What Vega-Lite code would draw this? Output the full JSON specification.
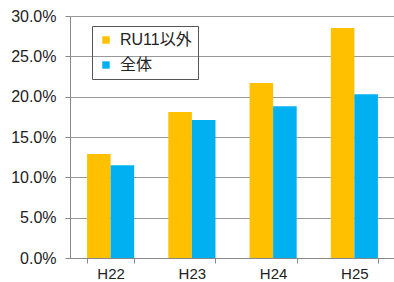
{
  "$schema": "https://vega.github.io/schema/vega-lite/v6.json",
  "autosize": "none",
  "width": 325,
  "height": 242,
  "padding": {"left": 70, "top": 16, "right": 0, "bottom": 24},
  "config": {
    "font": "Liberation Sans, Noto Sans CJK JP, sans-serif",
    "view": {"stroke": null}
  },
  "data": {
    "values": [
      {"year": "H22", "series": "RU11以外", "value": 0.129},
      {"year": "H22", "series": "全体", "value": 0.115},
      {"year": "H23", "series": "RU11以外", "value": 0.181},
      {"year": "H23", "series": "全体", "value": 0.171},
      {"year": "H24", "series": "RU11以外", "value": 0.217},
      {"year": "H24", "series": "全体", "value": 0.188},
      {"year": "H25", "series": "RU11以外", "value": 0.285},
      {"year": "H25", "series": "全体", "value": 0.203}
    ]
  },
  "mark": {"type": "bar"},
  "encoding": {
    "x": {
      "field": "year", "type": "nominal",
      "scale": {"paddingInner": 0.42, "paddingOuter": 0.21},
      "axis": {
        "title": null, "labelAngle": 0, "labelFontSize": 15, "labelColor": "#222",
        "domainColor": "#888", "tickColor": "#888", "tickBand": "extent", "tickSize": 5,
        "labelPadding": 3
      }
    },
    "xOffset": {"field": "series", "type": "nominal", "sort": ["RU11以外", "全体"], "scale": {"paddingInner": 0, "paddingOuter": 0}},
    "y": {
      "field": "value", "type": "quantitative",
      "scale": {"domain": [0, 0.3]},
      "axis": {
        "title": null, "format": ".1%", "values": [0, 0.05, 0.1, 0.15, 0.2, 0.25, 0.3],
        "labelOverlap": false,
        "labelFontSize": 16, "labelColor": "#222", "labelPadding": 9,
        "domainColor": "#888", "tickColor": "#888", "gridColor": "#999", "tickSize": 5
      }
    },
    "color": {
      "field": "series", "type": "nominal", "sort": ["RU11以外", "全体"],
      "scale": {"range": ["#FFC000", "#00B0F0"]},
      "legend": {
        "title": null, "orient": "none", "legendX": 22, "legendY": 10,
        "strokeColor": "#555", "padding": 6, "symbolType": "square", "symbolSize": 55,
        "labelFontSize": 16, "labelColor": "#222", "rowPadding": 9, "symbolStrokeWidth": 0,
        "labelOffset": 6
      }
    }
  }
}
